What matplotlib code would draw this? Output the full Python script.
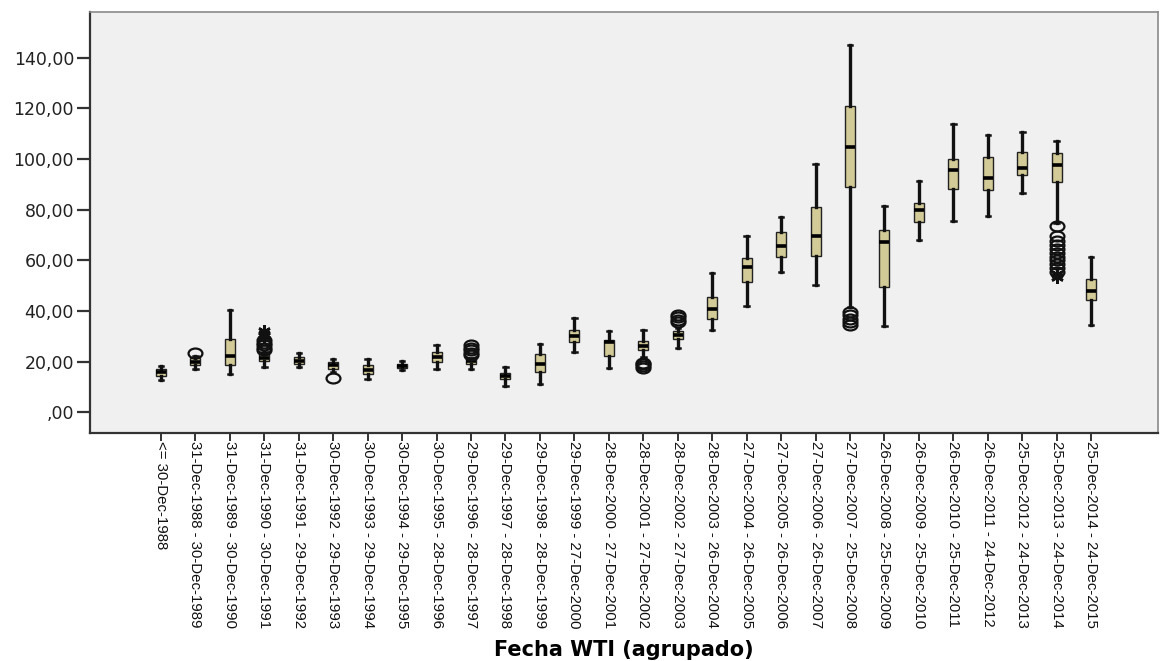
import matplotlib
matplotlib.use("Agg")
import matplotlib.pyplot as plt
import matplotlib.transforms as mtransforms
from matplotlib.path import Path

# Group labels (WTI date bins)
categories = [
    "<= 30-Dec-1988",
    "31-Dec-1988 - 30-Dec-1989",
    "31-Dec-1989 - 30-Dec-1990",
    "31-Dec-1990 - 30-Dec-1991",
    "31-Dec-1991 - 29-Dec-1992",
    "30-Dec-1992 - 29-Dec-1993",
    "30-Dec-1993 - 29-Dec-1994",
    "30-Dec-1994 - 29-Dec-1995",
    "30-Dec-1995 - 28-Dec-1996",
    "29-Dec-1996 - 28-Dec-1997",
    "29-Dec-1997 - 28-Dec-1998",
    "29-Dec-1998 - 28-Dec-1999",
    "29-Dec-1999 - 27-Dec-2000",
    "28-Dec-2000 - 27-Dec-2001",
    "28-Dec-2001 - 27-Dec-2002",
    "28-Dec-2002 - 27-Dec-2003",
    "28-Dec-2003 - 26-Dec-2004",
    "27-Dec-2004 - 26-Dec-2005",
    "27-Dec-2005 - 26-Dec-2006",
    "27-Dec-2006 - 26-Dec-2007",
    "27-Dec-2007 - 25-Dec-2008",
    "26-Dec-2008 - 25-Dec-2009",
    "26-Dec-2009 - 25-Dec-2010",
    "26-Dec-2010 - 25-Dec-2011",
    "26-Dec-2011 - 24-Dec-2012",
    "25-Dec-2012 - 24-Dec-2013",
    "25-Dec-2013 - 24-Dec-2014",
    "25-Dec-2014 - 24-Dec-2015",
]

whisker_low = [12.8, 17.0, 15.1, 18.0, 17.8, 16.0, 13.4, 16.7, 17.1, 17.1,
               10.4, 11.2, 23.7, 17.4, 22.0, 25.3, 32.5, 42.0, 55.5, 50.3,
               41.7, 34.1, 68.0, 75.6, 77.5, 86.5, 74.6, 34.5]
q1 = [14.4, 18.7, 18.7, 20.3, 19.1, 17.1, 15.1, 17.4, 20.0, 19.1,
      13.4, 16.0, 27.9, 22.4, 24.6, 28.8, 36.7, 51.6, 61.2, 61.7,
      88.8, 49.6, 75.0, 88.2, 87.8, 93.7, 91.0, 44.3]
median = [15.8, 20.0, 22.4, 21.5, 20.4, 18.7, 16.7, 18.3, 22.0, 20.4,
          14.5, 19.3, 30.1, 27.9, 26.3, 30.5, 40.8, 57.5, 65.7, 69.7,
          104.6, 67.2, 79.7, 95.7, 92.4, 96.4, 97.6, 47.9]
q3 = [17.0, 21.3, 28.9, 23.0, 22.0, 20.0, 18.7, 19.3, 23.9, 21.3,
      15.6, 22.9, 32.5, 28.5, 28.3, 32.1, 45.4, 61.0, 71.3, 81.2,
      120.9, 72.0, 82.7, 100.0, 100.7, 102.9, 102.3, 52.6]
whisker_high = [18.5, 22.3, 40.4, 24.0, 23.3, 21.0, 20.9, 20.4, 26.6, 21.6,
                17.8, 27.2, 37.1, 32.1, 32.5, 33.3, 55.1, 69.6, 77.0, 98.0,
                145.1, 81.4, 91.4, 113.8, 109.5, 110.5, 107.2, 61.2]

# Outliers (open circles) and extreme values (asterisks) per group index
outliers = {
    1: [23.4],
    3: [24.5, 25.5, 26.5, 27.5, 28.5],
    5: [13.7],
    9: [22.5, 23.5, 24.5, 25.5, 26.5],
    14: [17.7, 18.3, 19.0, 19.7],
    15: [35.5, 36.5, 37.5, 38.5],
    20: [34.5, 35.5, 37.0, 38.5, 39.5],
    26: [73.5, 69.5, 67.5, 66.0, 64.5, 63.0, 61.5, 60.0, 58.5, 57.0, 55.5],
}
extremes = {
    3: [30.0, 31.0, 32.0],
    26: [53.5, 54.5],
}

y_ticks = [0, 20, 40, 60, 80, 100, 120, 140]
y_tick_labels = [",00", "20,00", "40,00", "60,00", "80,00", "100,00", "120,00", "140,00"]
x_title = "Fecha WTI (agrupado)"

box_fill = "#d3cb97"

fig = plt.figure(figsize=(11.6, 6.61), dpi=100)
ax = fig.add_axes([90 / 1160, 1 - 433 / 661, (1158 - 90) / 1160, (433 - 12) / 661])
ax.set_facecolor("#f0f0f0")

stats = []
for i in range(len(categories)):
    stats.append({
        "whislo": whisker_low[i], "q1": q1[i], "med": median[i],
        "q3": q3[i], "whishi": whisker_high[i], "fliers": [],
    })

positions = list(range(len(categories)))
ax.bxp(
    stats, positions=positions, widths=0.29, patch_artist=True,
    showfliers=False,
    boxprops=dict(facecolor=box_fill, edgecolor="#222222", linewidth=1.0),
    medianprops=dict(color="black", linewidth=2.6, solid_capstyle="butt"),
    whiskerprops=dict(color="#111111", linewidth=2.4),
    capprops=dict(color="#111111", linewidth=1.8),
    capwidths=0.13,
    manage_ticks=False,
)

# Wide ellipse marker for outliers
ellipse = Path.unit_circle().transformed(mtransforms.Affine2D().scale(1.4, 1.0))
for i, vals in outliers.items():
    ax.plot([i] * len(vals), vals, linestyle="none", marker=ellipse,
            markersize=10, markerfacecolor="none", markeredgecolor="#111111",
            markeredgewidth=1.6, zorder=4)
for i, vals in extremes.items():
    ax.plot([i] * len(vals), vals, linestyle="none", marker=(6, 2, 0),
            markersize=9, color="#111111", markeredgewidth=1.8, zorder=4)

ax.set_xlim(-2.06, 28.94)
ax.set_ylim(-8.1, 158)
ax.set_yticks(y_ticks)
ax.set_yticklabels(y_tick_labels, fontsize=12.5, family="DejaVu Sans", color="#222222")
ax.set_xticks(positions)
ax.set_xticklabels(categories, rotation=270, fontsize=10.8, family="Liberation Sans",
                   va="top", ha="center", rotation_mode="default", color="#111111")

ax.tick_params(axis="y", direction="out", length=9.5, width=1.6, color="#333333", pad=2)
ax.tick_params(axis="x", direction="out", length=6, width=1.4, color="#333333", pad=0)

for side in ("left", "bottom"):
    ax.spines[side].set_color("#333333")
    ax.spines[side].set_linewidth(1.6)
for side in ("top", "right"):
    ax.spines[side].set_color("#8a8a8a")
    ax.spines[side].set_linewidth(1.2)

fig.text((90 + 1158) / 2 / 1160, 1 - 650 / 661, x_title, ha="center", va="center",
         fontsize=15, fontweight="bold", family="DejaVu Sans")

fig.savefig("out.png", dpi=100, facecolor="white")
